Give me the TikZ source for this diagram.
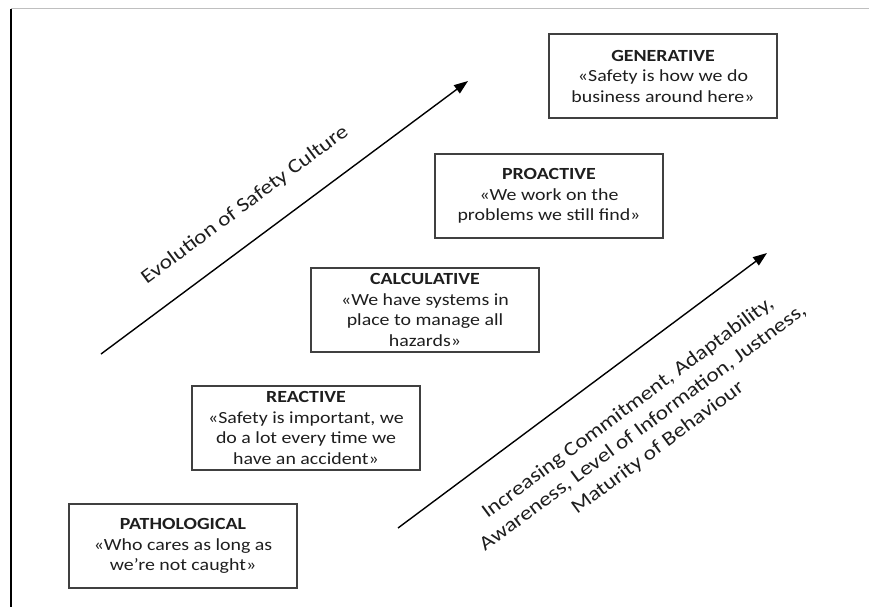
\documentclass[tikz,border=0pt]{standalone}
\usepackage{fontspec}
\setmainfont{Carlito}[FakeStretch=1.17]
\usetikzlibrary{arrows.meta}
\definecolor{boxline}{HTML}{404040}
\definecolor{txt}{HTML}{1E1E1E}
\tikzset{
  stagebox/.style={draw=boxline, line width=1.3pt, rectangle, minimum width=228pt, minimum height=84pt,
    align=center, text=txt, font=\fontsize{17}{20.5}\selectfont, inner sep=0pt},
  evoarrow/.style={line width=1.4pt, -{Triangle[length=14pt,width=10pt]}},
  axislabel/.style={rotate=36.6, align=center, text=txt, font=\fontsize{20}{25}\selectfont}
}
\begin{document}
\begin{tikzpicture}[x=1pt,y=-1pt]
\useasboundingbox (0,0) rectangle (869,607);
\draw[color=black!25, line width=1pt] (11,9) -- (869,9);
\draw[line width=2pt] (11,9) -- (11,607);

\node[stagebox] (path) at (183,546) {\textbf{PATHOLOGICAL}\\«Who cares as long as\\we’re not caught»};
\node[stagebox] (react) at (306,428) {\textbf{REACTIVE}\\«Safety is important, we\\do a lot every time we\\have an accident»};
\node[stagebox] (calc) at (425,310) {\textbf{CALCULATIVE}\\«We have systems in\\place to manage all\\hazards»};
\node[stagebox] (proact) at (549,196) {\textbf{PROACTIVE}\\«We work on the\\problems we still find»};
\node[stagebox] (gen) at (663,76) {\textbf{GENERATIVE}\\«Safety is how we do\\business around here»};

\coordinate (a1s) at (101,354);
\coordinate (a1e) at (468,81);
\coordinate (a2s) at (398,528);
\coordinate (a2e) at (767,253);
\draw[evoarrow] (a1s) -- (a1e);
\draw[evoarrow] (a2s) -- (a2e);

\node[axislabel] (evol) at (245,205) {Evolution of Safety Culture};
\node[axislabel] (incr) at (643,428) {Increasing Commitment, Adaptability,\\Awareness, Level of Information, Justness,\\Maturity of Behaviour};
\end{tikzpicture}
\end{document}
